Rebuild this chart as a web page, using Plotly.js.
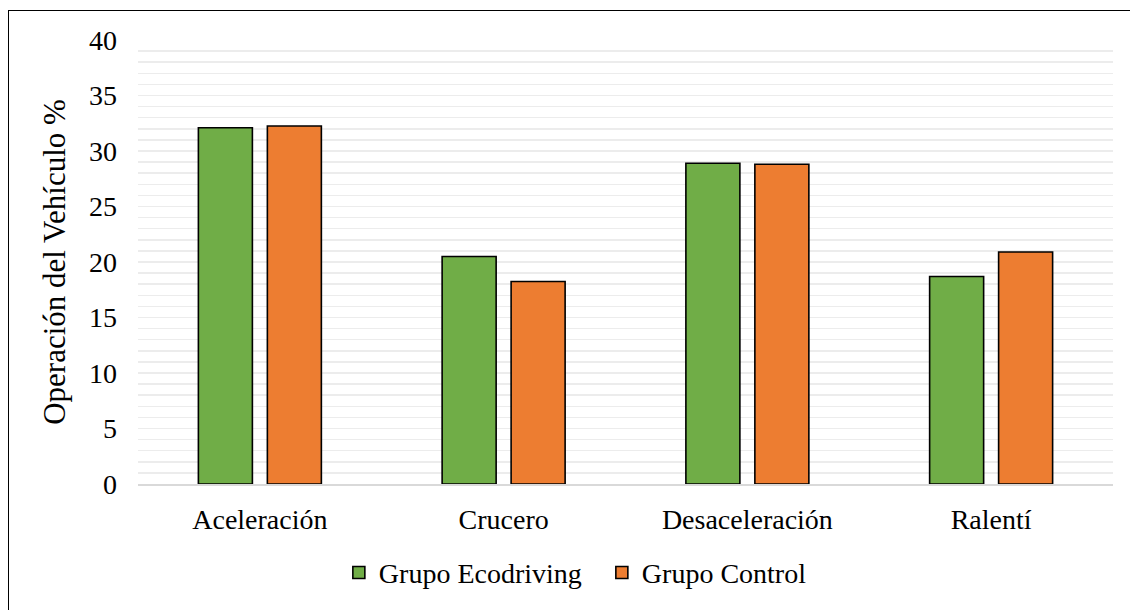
<!DOCTYPE html>
<html>
<head>
<meta charset="utf-8">
<script src="https://cdn.plot.ly/plotly-3.0.1.min.js"></script>
<style>
body{margin:0;padding:0;background:#fff;overflow:hidden;}
#wrap{position:relative;width:1130px;height:610px;overflow:hidden;}
#chart{position:absolute;left:0;top:0;width:1130px;height:610px;}
#frame{position:absolute;left:8px;top:10px;width:1130px;height:610px;border-top:1.5px solid #000;border-left:1.5px solid #000;pointer-events:none;}
</style>
</head>
<body>
<div id="wrap"><div id="chart"></div><div id="frame"></div></div>
<script>
const categories = ["Aceleración", "Crucero", "Desaceleración", "Ralentí"];
const ecodriving = [32.1, 20.5, 28.9, 18.7];
const control = [32.25, 18.25, 28.8, 20.9];
const seriesNames = ["Grupo Ecodriving", "Grupo Control"];

const font = "'Liberation Serif', 'Times New Roman', serif";
const data = [
  {type:"bar", name:seriesNames[0], x:categories, y:ecodriving,
   marker:{color:"#70ad47", line:{color:"#000", width:1.6}}},
  {type:"bar", name:seriesNames[1], x:categories, y:control,
   marker:{color:"#ed7d31", line:{color:"#000", width:1.6}}}
];
const layout = {
  width:1130, height:610,
  margin:{l:138, r:17, t:40, b:123},
  paper_bgcolor:"#fff", plot_bgcolor:"#fff",
  font:{family:font, color:"#000", size:28},
  barmode:"group", bargap:0.434, bargroupgap:0.217,
  showlegend:true,
  legend:{orientation:"h", x:0.206, xanchor:"left", y:-0.2, yanchor:"middle",
          font:{family:font, size:28}, itemwidth:30, traceorder:"normal",
          entrywidth:218, entrywidthmode:"pixels"},
  xaxis:{tickfont:{family:font, size:28}, showgrid:false, zeroline:false,
         showline:true, linecolor:"#d9d9d9", linewidth:1.5, ticks:"", ticklabelstandoff:10},
  yaxis:{range:[0,40], dtick:5, tick0:0, tickfont:{family:font, size:28},
         gridcolor:"#ececec", gridwidth:1.5, zeroline:false, showline:false,
         ticklabelstandoff:20,
         minor:{dtick:1, showgrid:true, gridcolor:"#ececec", gridwidth:1.5},
         title:{text:"Operación del Vehículo %", font:{family:font, size:31}, standoff:14}}
};
Plotly.newPlot("chart", data, layout, {displayModeBar:false, staticPlot:true});
</script>
</body>
</html>
